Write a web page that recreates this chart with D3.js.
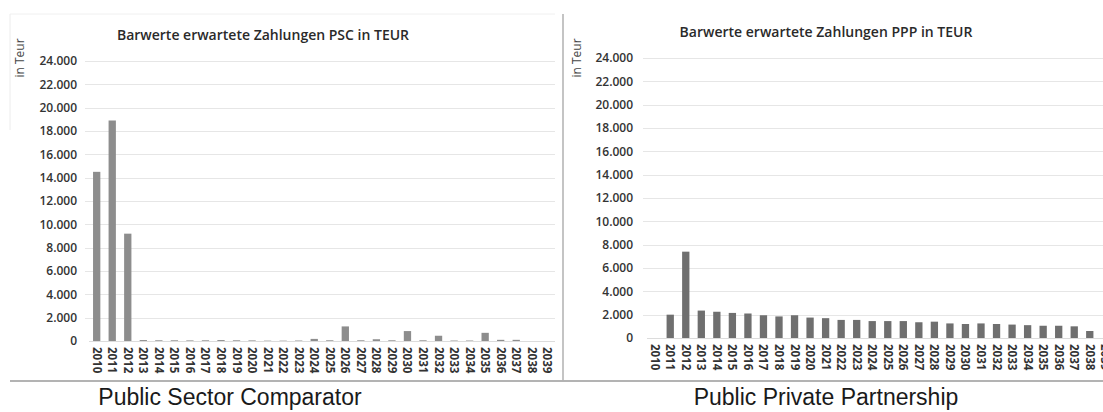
<!DOCTYPE html>
<html><head><meta charset="utf-8">
<script src="https://cdn.jsdelivr.net/npm/d3@7"></script>
<style>
html,body{margin:0;padding:0;background:#fff;}
svg{display:block;}
</style></head>
<body>
<svg id="c" width="1103" height="412"></svg>
<script>
const years = ["2010","2011","2012","2013","2014","2015","2016","2017","2018","2019","2020","2021","2022","2023","2024","2025","2026","2027","2028","2029","2030","2031","2032","2033","2034","2035","2036","2037","2038","2039"];
const pscValues = [14500,18900,9200,80,60,60,50,60,80,60,50,30,30,40,180,60,1250,60,150,60,850,60,450,40,40,700,100,100,0,0];
const pppValues = [0,2000,7400,2350,2250,2150,2100,1950,1850,1950,1750,1700,1550,1550,1450,1450,1450,1350,1400,1250,1200,1250,1200,1150,1100,1050,1050,1000,600,0];
const yTicks = [0,2000,4000,6000,8000,10000,12000,14000,16000,18000,20000,22000,24000];
const titles = ["Barwerte erwartete Zahlungen PSC in TEUR","Barwerte erwartete Zahlungen PPP in TEUR"];
const captions = ["Public Sector Comparator","Public Private Partnership"];
const yAxisTitle = "in Teur";

const de = d3.formatLocale({decimal:",",thousands:".",grouping:[3],currency:["","€"]});
const fmt = de.format(",.0f");
const svg = d3.select("#c");

// frame lines
svg.append("line").attr("x1",10).attr("x2",1103).attr("y1",381).attr("y2",381).attr("stroke","#9a9a9a").attr("stroke-width",1.5);
svg.append("line").attr("x1",563).attr("x2",563).attr("y1",14).attr("y2",381).attr("stroke","#b0b0b0").attr("stroke-width",1.5);
svg.append("line").attr("x1",10).attr("x2",10).attr("y1",14).attr("y2",130).attr("stroke","#ececec");
svg.append("line").attr("x1",10).attr("x2",555).attr("y1",14).attr("y2",14).attr("stroke","#f0f0f0");

const FONT = "'Open Sans',sans-serif";

function panel(cfg){
  const g = svg.append("g");
  const x = d3.scaleBand().domain(years).range([cfg.x0,cfg.x1]).paddingInner(0.53).paddingOuter(0.26);
  const y = d3.scaleLinear().domain([0,24000]).range([cfg.yb,cfg.yt]);
  // grid
  g.append("g").selectAll("line").data(yTicks.slice(1)).join("line")
    .attr("x1",cfg.x0-4).attr("x2",cfg.x1).attr("y1",d=>Math.round(y(d))+0.5).attr("y2",d=>Math.round(y(d))+0.5)
    .attr("stroke","#e6e6e6").attr("stroke-width",1);
  // y axis
  const ya = d3.axisLeft(y).tickValues(yTicks).tickFormat(fmt).tickSize(0).tickPadding(0);
  const yg = g.append("g").attr("transform",`translate(${cfg.ylab},0)`).call(ya);
  yg.select(".domain").remove();
  yg.selectAll("text").attr("fill","#333").style("font-family",FONT).style("font-size","12px").style("font-weight","600");
  // bars
  g.append("g").selectAll("rect").data(cfg.values).join("rect")
    .attr("x",(d,i)=>x(years[i])).attr("width",x.bandwidth())
    .attr("y",d=>y(d)).attr("height",d=>Math.max(y(0)-y(d), d>0?1:0))
    .attr("fill",cfg.color);
  // baseline
  g.append("line").attr("x1",cfg.x0).attr("x2",cfg.x1).attr("y1",y(0)+0.5).attr("y2",y(0)+0.5).attr("stroke","#dcdcdc");
  // x axis
  const xa = d3.axisBottom(x).tickSize(0).tickPadding(0);
  const xg = g.append("g").attr("transform",`translate(0,${cfg.yb+6})`).call(xa);
  xg.select(".domain").remove();
  xg.selectAll("text").attr("transform","rotate(90)").attr("text-anchor","start").attr("dy","0.35em").attr("dx","0")
    .attr("x",0).attr("y",0)
    .attr("fill","#333").style("font-family",FONT).style("font-size","11.5px").style("font-weight","700");
  // title
  g.append("text").attr("x",cfg.tx).attr("y",cfg.ty).attr("text-anchor","middle")
    .attr("fill","#2a2a2a").style("font-family",FONT).style("font-size","14px").style("font-weight","600")
    .text(cfg.title);
  // y title
  g.append("text").attr("transform",`translate(${cfg.ytx},58) rotate(-90)`).attr("text-anchor","middle")
    .attr("fill","#444").style("font-family",FONT).style("font-size","12px")
    .text(yAxisTitle);
  // caption
  g.append("text").attr("x",cfg.cx).attr("y",405).attr("text-anchor","middle")
    .attr("fill","#1a1a1a").style("font-family","'Liberation Sans',Arial,sans-serif").style("font-size","23px")
    .text(cfg.caption);
}

panel({values:pscValues,color:"#8d8d8d",x0:89,x1:555,yb:341,yt:61,ylab:77,tx:263,ty:40,ytx:24,cx:230,title:titles[0],caption:captions[0]});
panel({values:pppValues,color:"#6f6f6f",x0:647,x1:1113,yb:338,yt:58,ylab:633,tx:826,ty:37,ytx:581,cx:826,title:titles[1],caption:captions[1]});
</script>
</body></html>
